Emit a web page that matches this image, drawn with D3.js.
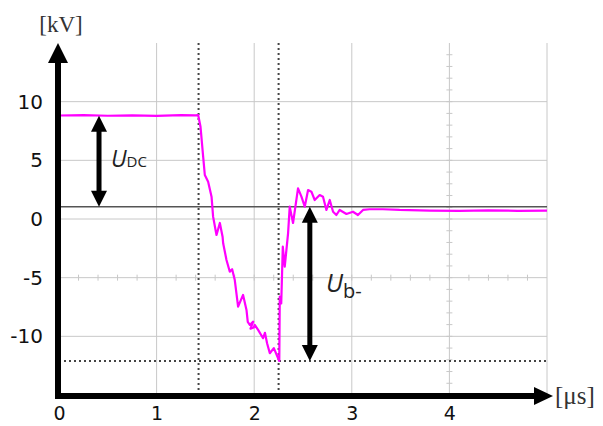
<!DOCTYPE html>
<html><head><meta charset="utf-8">
<script src="https://cdn.jsdelivr.net/npm/d3@7"></script>
<style>body{margin:0;background:#fff}svg{display:block}</style>
</head><body>
<svg id="c" width="603" height="426"></svg>
<script>
// ---- data ----
const xTicks = [0, 1, 2, 3, 4];
const yTicks = [-10, -5, 0, 5, 10];
const xGrid = [1, 2, 3, 4, 5];
const yGrid = [-10, -5, 0, 5, 10];
const timeUs = [0, 0.25, 0.5, 0.75, 1.0, 1.25, 1.40, 1.426, 1.450, 1.477, 1.494, 1.528, 1.563, 1.579, 1.604, 1.614, 1.648, 1.676, 1.682,
  1.716, 1.750, 1.774, 1.801, 1.835, 1.886, 1.921, 1.934, 1.955, 1.990, 1.962, 1.995, 2.006, 2.040, 2.091, 2.110, 2.132, 2.160,
  2.201, 2.245, 2.257, 2.262, 2.277, 2.293, 2.313, 2.347, 2.364, 2.398, 2.449, 2.484, 2.518, 2.552, 2.586, 2.620, 2.671, 2.705,
  2.740, 2.774, 2.808, 2.842, 2.876, 2.945, 3.012, 3.063, 3.115, 3.183, 3.319, 3.490, 3.8, 4.1, 4.4, 4.7, 5.0];
const voltageKv = [8.82, 8.86, 8.80, 8.84, 8.79, 8.85, 8.83, 8.86, 7.86, 5.31, 3.75, 3.18, 1.90, 0.20, -0.94, -1.36, -0.34, -1.51, -2.07,
  -3.49, -4.49, -4.28, -5.20, -7.47, -6.47, -7.75, -8.77, -9.03, -8.75, -9.35, -9.25, -9.03, -9.45, -10.16, -9.70, -10.59, -11.44,
  -11.01, -11.87, -12.10, -6.62, -7.20, -2.36, -4.06, -1.22, 1.05, -0.34, 2.61, 1.90, 1.05, 2.47, 2.33, 1.62, 2.04, 1.90,
  0.77, 1.62, 0.62, 0.34, 0.77, 0.43, 0.62, 0.34, 0.77, 0.83, 0.83, 0.77, 0.72, 0.70, 0.74, 0.70, 0.72];
const dcLevel = 1.05;      // solid reference line [kV]
const minLevel = -12.1;    // dotted minimum line [kV]
const markerTimes = [1.43, 2.25];
const flatLevel = 8.8;
const udcArrowT = 0.41;
const ubArrowT = 2.57;

// ---- scales ----
const svg = d3.select("#c");
const x = d3.scaleLinear().domain([0, 5]).range([59, 547]);
const y = d3.scaleLinear().domain([-15, 15]).range([395, 43]);
const axX = 58, axY = 396;

// grid
const g = svg.append("g");
g.selectAll(".vg").data(xGrid).join("line")
  .attr("x1", d => x(d)).attr("x2", d => x(d)).attr("y1", y(15)).attr("y2", y(-15))
  .attr("stroke", "#c8c8c8").attr("stroke-width", 1);
g.selectAll(".hg").data(yGrid).join("line")
  .attr("x1", x(0)).attr("x2", x(5)).attr("y1", d => y(d)).attr("y2", d => y(d))
  .attr("stroke", "#c8c8c8").attr("stroke-width", 1);
// minor ticks on centre lines
const minorX = d3.range(1, 25).map(i => i * 0.2);
g.selectAll(".mx").data(minorX).join("line")
  .attr("x1", d => x(d)).attr("x2", d => x(d)).attr("y1", y(-5) - 3).attr("y2", y(-5) + 3)
  .attr("stroke", "#c8c8c8");
const minorY = d3.range(-14, 15);
g.selectAll(".my").data(minorY).join("line")
  .attr("x1", x(4) - 3).attr("x2", x(4) + 3).attr("y1", d => y(d)).attr("y2", d => y(d))
  .attr("stroke", "#c8c8c8");

// dotted markers
g.selectAll(".vm").data(markerTimes).join("line")
  .attr("x1", d => x(d)).attr("x2", d => x(d)).attr("y1", y(15)).attr("y2", y(-15))
  .attr("stroke", "#444").attr("stroke-width", 2).attr("stroke-dasharray", "2,3");
g.append("line").attr("x1", x(0)).attr("x2", x(5)).attr("y1", y(minLevel)).attr("y2", y(minLevel))
  .attr("stroke", "#444").attr("stroke-width", 2).attr("stroke-dasharray", "2,3");
// solid dc line
g.append("line").attr("x1", x(0)).attr("x2", x(5)).attr("y1", y(dcLevel)).attr("y2", y(dcLevel))
  .attr("stroke", "#555").attr("stroke-width", 1.4);

// waveform
const pts = timeUs.map((t, i) => [t, voltageKv[i]]);
svg.append("path").datum(pts)
  .attr("d", d3.line().x(d => x(d[0])).y(d => y(d[1])))
  .attr("fill", "none").attr("stroke", "#f0f").attr("stroke-width", 2.2).attr("stroke-linejoin", "round");

// axes labels
const fontTick = "'DejaVu Sans', Verdana, sans-serif";
const fmt = d => String(d);
const ya = svg.append("g").attr("transform", `translate(${axX},0)`)
  .call(d3.axisLeft(y).tickValues(yTicks).tickFormat(fmt).tickSize(0).tickPadding(15));
ya.select(".domain").remove();
ya.selectAll("text").attr("font-family", fontTick).attr("font-size", 20).attr("fill", "#111");
const xa = svg.append("g").attr("transform", `translate(0,${axY})`)
  .call(d3.axisBottom(x).tickValues(xTicks).tickFormat(fmt).tickSize(0).tickPadding(11));
xa.select(".domain").remove();
xa.selectAll("text").attr("font-family", fontTick).attr("font-size", 19).attr("fill", "#111");

// thick axes with arrows
svg.append("line").attr("x1", axX).attr("x2", axX).attr("y1", axY + 3).attr("y2", 60)
  .attr("stroke", "#000").attr("stroke-width", 6);
svg.append("path").attr("d", `M${axX},43 L${axX - 10},63 L${axX + 10},63 Z`).attr("fill", "#000");
svg.append("line").attr("x1", axX - 3).attr("x2", 536).attr("y1", axY).attr("y2", axY)
  .attr("stroke", "#000").attr("stroke-width", 6);
svg.append("path").attr("d", `M553,${axY} L534,${axY - 9} L534,${axY + 9} Z`).attr("fill", "#000");

// double arrows
function dblArrow(t, v1, v2) {
  const cx = x(t), yt = y(v1), yb = y(v2);
  svg.append("line").attr("x1", cx).attr("x2", cx).attr("y1", yt + 10).attr("y2", yb - 10)
    .attr("stroke", "#000").attr("stroke-width", 5);
  svg.append("path").attr("d", `M${cx},${yt} L${cx - 8},${yt + 16} L${cx + 8},${yt + 16} Z`).attr("fill", "#000");
  svg.append("path").attr("d", `M${cx},${yb} L${cx - 8},${yb - 16} L${cx + 8},${yb - 16} Z`).attr("fill", "#000");
}
dblArrow(udcArrowT, flatLevel, dcLevel);
dblArrow(ubArrowT, dcLevel, minLevel);

// unit labels
svg.append("text").attr("x", 61).attr("y", 32).attr("text-anchor", "middle")
  .attr("font-family", "'Liberation Serif', serif").attr("font-size", 23).attr("fill", "#333").text("[kV]");
svg.append("text").attr("x", 555).attr("y", 404)
  .attr("font-family", "'Liberation Serif', serif").attr("font-size", 25).attr("fill", "#333").text("[μs]");

// annotation labels
const t1 = svg.append("text").attr("x", 111).attr("y", 167).attr("font-family", "'Open Sans', sans-serif").attr("fill", "#222");
t1.append("tspan").attr("font-size", 23).attr("font-style", "italic").text("U");
t1.append("tspan").attr("font-size", 15).text("DC");
const t2 = svg.append("text").attr("x", 326).attr("y", 292).attr("font-family", "'Open Sans', sans-serif").attr("fill", "#222");
t2.append("tspan").attr("font-size", 25).attr("font-style", "italic").text("U");
t2.append("tspan").attr("font-size", 20).attr("dy", 6).text("b-");
</script>
</body></html>
